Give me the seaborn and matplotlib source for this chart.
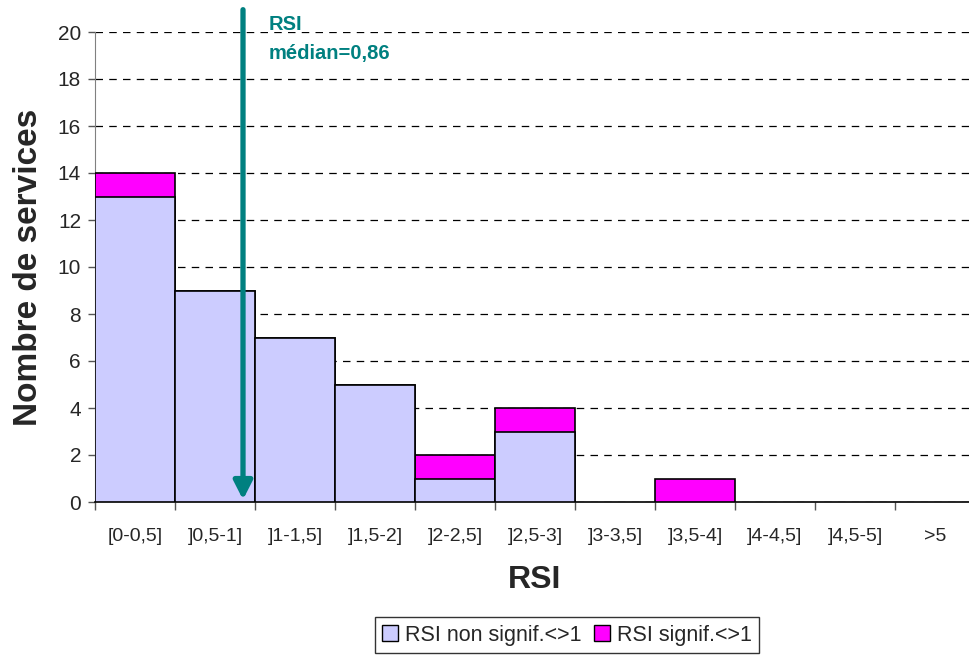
import numpy as np
import pandas as pd
import matplotlib
matplotlib.use("Agg")
import matplotlib.pyplot as plt
import seaborn as sns
from matplotlib.patches import Patch

# Data
categories = ["[0-0,5]", "]0,5-1]", "]1-1,5]", "]1,5-2]", "]2-2,5]", "]2,5-3]",
              "]3-3,5]", "]3,5-4]", "]4-4,5]", "]4,5-5]", ">5"]
non_signif = [13, 9, 7, 5, 1, 3, 0, 0, 0, 0, 0]
signif = [1, 0, 0, 0, 1, 1, 0, 1, 0, 0, 0]
median_rsi = 0.86

col_non = "#CCCCFF"
col_sig = "#FF00FF"
teal = "#008080"

sns.set_style("white")
plt.rcParams["font.family"] = ["Liberation Sans", "DejaVu Sans"]

df = pd.DataFrame({"cat": categories, "non": non_signif, "sig": signif})
df["total"] = df["non"] + df["sig"]

fig = plt.figure(figsize=(9.7, 6.57), dpi=100)
ax = fig.add_axes([95 / 970, 155 / 657, 880 / 970, 470 / 657])

# stacked bars: total underneath with magenta, non-signif drawn on top
sns.barplot(data=df, x="cat", y="total", color=col_sig, width=1.0, saturation=1,
            edgecolor="black", linewidth=1.2, ax=ax, zorder=3)
sns.barplot(data=df, x="cat", y="non", color=col_non, width=1.0, saturation=1,
            edgecolor="black", linewidth=1.2, ax=ax, zorder=3)
# hide outlines of zero-height bars
for p in ax.patches:
    if p.get_height() == 0:
        p.set_visible(False)

ax.set_xlim(-0.5, len(categories) - 0.5)
ax.set_ylim(0, 20)
ax.set_yticks(np.arange(0, 21, 2))
ax.yaxis.grid(True, linestyle=(0, (6, 5)), color="black", linewidth=0.9)
ax.set_axisbelow(True)

# x ticks at the boundaries, labels centered
ax.set_xticks(np.arange(-0.5, len(categories), 1.0))
ax.set_xticklabels([])
ax.set_xticks(np.arange(len(categories)), minor=True)
ax.set_xticklabels(categories, minor=True, fontsize=14)
ax.tick_params(axis="x", which="major", length=6, width=1, color="#555555", direction="out")
ax.tick_params(axis="x", which="minor", length=0, pad=19)
ax.tick_params(axis="y", length=5, width=1, color="#555555", direction="out", labelsize=15, pad=5)
ax.tick_params(bottom=True, left=True)

for s in ["top", "right"]:
    ax.spines[s].set_visible(False)
ax.spines["left"].set_color("#808080")
ax.spines["bottom"].set_color("black")
ax.spines["bottom"].set_linewidth(1.2)

ax.set_xlabel("RSI", fontsize=23, fontweight="bold", labelpad=14)
ax.set_ylabel("Nombre de services", fontsize=24, fontweight="bold", labelpad=10)

# median arrow: 0.86 sits inside the ]0,5-1] bin
xm = 1 + (median_rsi - 0.5) / 0.5 - 0.5 + 0.13
ax.annotate("", xy=(xm, 0.1), xytext=(xm, 20.95),
            arrowprops=dict(arrowstyle="-|>,head_width=0.28,head_length=0.55",
                            mutation_scale=20, lw=3.8, color=teal,
                            shrinkA=0, shrinkB=0),
            annotation_clip=False, zorder=5)
ax.text(xm + 0.32, 20.3, "RSI", color=teal, fontsize=14.5, fontweight="bold",
        ha="left", va="center", clip_on=False)
ax.text(xm + 0.32, 19.1, "médian=0,86", color=teal, fontsize=14.5, fontweight="bold",
        ha="left", va="center", clip_on=False)

handles = [Patch(facecolor=col_non, edgecolor="black", label="RSI non signif.<>1"),
           Patch(facecolor=col_sig, edgecolor="black", label="RSI signif.<>1")]
leg = fig.legend(handles=handles, ncol=2, loc="upper center",
                 bbox_to_anchor=(567 / 970, 1 - 617 / 657), fontsize=15.5,
                 frameon=True, fancybox=False, edgecolor="black",
                 handlelength=0.75, handleheight=0.75, handletextpad=0.3,
                 columnspacing=0.6, borderpad=0.35, borderaxespad=0)
leg.get_frame().set_linewidth(1.0)

fig.savefig("out.png", dpi=100)
